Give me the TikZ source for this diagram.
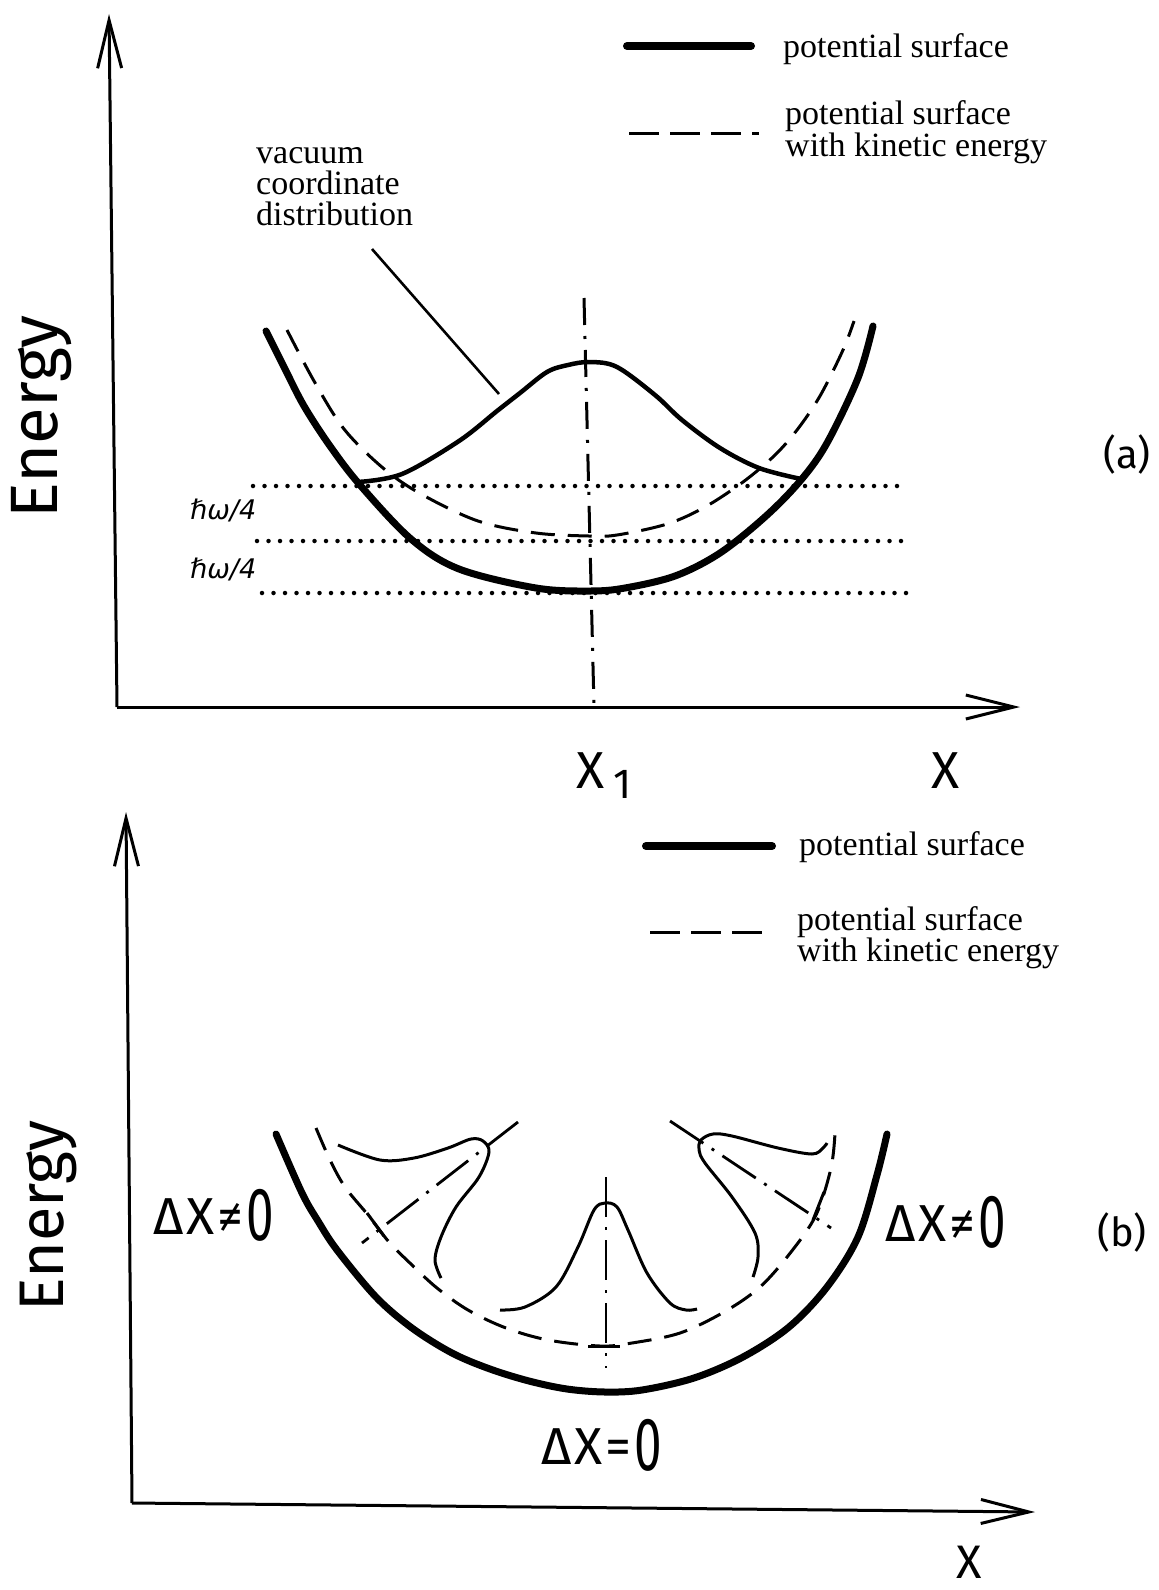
\documentclass[tikz,border=0pt]{standalone}
\usepackage{fontspec}
\usepackage{graphicx}
\setmainfont{Liberation Serif}
\newfontfamily\din{Fira Sans}
\newfontfamily\hfont{DejaVu Sans}
\usetikzlibrary{arrows.meta}
\newcommand{\tallzero}{\raisebox{-6pt}{\scalebox{0.95}[1.45]{0}}}
\tikzset{
  axisline/.style={line width=3pt,-{Straight Barb[length=48pt,width=24pt,line width=3pt]}},
  pot/.style={line width=7pt,line cap=round},
  kin/.style={line width=3pt,dash pattern=on 24pt off 13pt},
  dista/.style={line width=4.5pt},
  distb/.style={line width=3pt},
  dotline/.style={line width=4.5pt,line cap=round,dash pattern=on 0pt off 11.5pt},
  dashdota/.style={line width=3pt,dash pattern=on 27pt off 11pt on 3pt off 11pt},
  dashdotb/.style={line width=2.8pt,dash pattern=on 40pt off 10pt on 3pt off 10pt},
  lab/.style={inner sep=0pt,anchor=base west},
  serif/.style={lab,font=\fontsize{34}{34}\selectfont,text height=22pt,text depth=0pt},
  dxlab/.style={lab,font=\din\fontsize{52}{52}\selectfont},
}
\begin{document}
\begin{tikzpicture}[x=1pt,y=-1pt]
\useasboundingbox (0,0) rectangle (1159,1590);

% ================= panel (a) =================
\coordinate (oA) at (117,707);
\coordinate (yA) at (109,14);
\coordinate (xA) at (1020,707);
\draw[axisline] (oA) -- (yA);
\draw[axisline] (oA) -- (xA);

\node[rotate=90,lab,font=\din\fontsize{67}{67}\selectfont] (energyA) at (57,519) {Energy};
\node[font=\din\fontsize{40}{40}\selectfont,inner sep=0pt] (labA) at (1127,454) {(a)};
\node[lab,font=\din\fontsize{52}{52}\selectfont] (xone) at (576,788) {X};
\node[lab,font=\din\fontsize{42}{42}\selectfont] (xonesub) at (613,798) {1};
\node[lab,font=\din\fontsize{52}{52}\selectfont] (xlabA) at (931,788) {X};

% legend (a)
\coordinate (lgA1) at (627,46); \coordinate (lgA2) at (751,46);
\draw[line width=8pt,line cap=round] (lgA1) -- (lgA2);
\node[serif] (potA) at (783,57) {potential surface};
\coordinate (lgA3) at (629,133); \coordinate (lgA4) at (759,133);
\draw[line width=3pt,dash pattern=on 30pt off 11pt] (lgA3) -- (lgA4);
\node[serif] (kinA1) at (785,124) {potential surface};
\node[serif] (kinA2) at (785,156) {with kinetic energy};

% dotted levels
\draw[dotline] (253,486) -- (900,486);
\draw[dotline] (257,541) -- (904,541);
\draw[dotline] (262,593) -- (908,593);
\node[lab,font=\hfont\itshape\fontsize{27}{27}\selectfont] (hw1) at (190,519) {ℏω/4};
\node[lab,font=\hfont\itshape\fontsize{27}{27}\selectfont] (hw2) at (190,578) {ℏω/4};

% symmetry axis
\draw[dashdota] (584,298) -- (594,707);

% potential surface
\draw[pot] plot[smooth,tension=0.55] coordinates {(266,331) (285,369) (304,406) (330,446) (360,485) (411,539) (459,569) (536,588) (590,591) (625,588) (675,576) (720,553) (766,516) (801,480) (827,443) (858,378) (873,326)};
% with kinetic energy
\draw[kin] plot[smooth,tension=0.55] coordinates {(287,330) (314,381) (344,429) (383,468) (421,494) (478,521) (536,533) (589,536) (617,535) (667,524) (705,507) (743,482) (774,456) (797,430) (820,396) (843,350) (854,321)};
% vacuum coordinate distribution
\draw[dista] plot[smooth,tension=0.55] coordinates {(358,482) (402,474) (459,441) (497,411) (520,393) (547,372) (568,365) (590,362) (617,367) (655,395) (682,420) (720,448) (759,468) (801,479)};

\node[inner sep=0pt,anchor=north west,align=left,font=\fontsize{34}{31}\selectfont] (vac) at (256,147.5) {vacuum\\coordinate\\distribution};
\coordinate (ptrA) at (372,249);
\coordinate (ptrB) at (499,394);
\draw[line width=2.6pt] (ptrA) -- (ptrB);

% ================= panel (b) =================
\coordinate (oB) at (132,1503);
\coordinate (yB) at (126,812);
\coordinate (xB) at (1035,1512);
\draw[axisline] (oB) -- (yB);
\draw[axisline] (oB) -- (xB);

\node[rotate=90,lab,font=\din\fontsize{63}{63}\selectfont] (energyB) at (63,1312) {Energy};
\node[font=\din\fontsize{40}{40}\selectfont,inner sep=0pt] (labB) at (1122,1232) {(b)};
\node[lab,font=\din\fontsize{47}{47}\selectfont] (xlabB) at (956,1578) {X};

% legend (b)
\coordinate (lgB1) at (646,846); \coordinate (lgB2) at (772,846);
\draw[line width=8pt,line cap=round] (lgB1) -- (lgB2);
\node[serif] (potB) at (799,855) {potential surface};
\coordinate (lgB3) at (650,932); \coordinate (lgB4) at (772,932);
\draw[line width=3pt,dash pattern=on 30pt off 11pt] (lgB3) -- (lgB4);
\node[serif] (kinB1) at (797,930) {potential surface};
\node[serif] (kinB2) at (797,961) {with kinetic energy};

% labels
\node[dxlab] (dxl) at (153,1234) {Δ\kern3pt X\kern3pt ≠\kern3pt \tallzero};
\node[dxlab] (dxr) at (885,1241) {Δ\kern3pt X\kern3pt ≠\kern3pt \tallzero};
\node[dxlab] (dxc) at (541,1464) {Δ\kern3pt X\kern3pt =\kern3pt \tallzero};

% potential surface
\draw[pot] plot[smooth,tension=0.55] coordinates {(276,1134) (302,1193) (318,1221) (337,1250) (376,1297) (412,1328) (452,1353) (490,1369) (529,1381) (567,1389) (605,1392) (642,1390) (694,1378) (743,1357) (789,1327) (827,1287) (858,1237) (877,1175) (887,1134)};
% with kinetic energy
\draw[kin] plot[smooth,tension=0.55] coordinates {(316,1128) (330,1160) (345,1187) (368,1215) (389,1242) (412,1265) (437,1288) (468,1310) (506,1328) (548,1340) (600,1346) (632,1343) (680,1333) (724,1312) (760,1287) (791,1252) (816,1215) (831,1168) (835,1133)};

% distribution axes
\draw[dashdotb] (606,1177) -- (606,1368);
\draw[dashdotb] (518,1122) -- (362,1243);
\draw[dashdotb] (670,1121) -- (831,1228);
% marks on the dashed curve
\draw[line width=3pt] (588,1346) -- (620,1346);
\draw[line width=3pt] (367,1213) -- (384,1236);
\draw[line width=3pt] (824,1192) -- (813,1220);

% distributions
\draw[distb] plot[smooth,tension=0.55] coordinates {(338,1145) (380,1160) (414,1158) (448,1148) (471,1139) (483,1141) (489,1152) (479,1177) (456,1207) (441,1237) (435,1260) (441,1278)};
\draw[distb] plot[smooth,tension=0.55] coordinates {(500,1310) (525,1307) (556,1287) (578,1247) (594,1210) (605,1203) (617,1207) (628,1230) (647,1273) (670,1303) (686,1310) (697,1309)};
\draw[distb] plot[smooth,tension=0.55] coordinates {(827,1143) (823,1148) (812,1154) (778,1148) (732,1136) (713,1134) (701,1140) (699,1150) (705,1163) (732,1197) (755,1233) (758,1257) (753,1277)};
\end{tikzpicture}
\end{document}
